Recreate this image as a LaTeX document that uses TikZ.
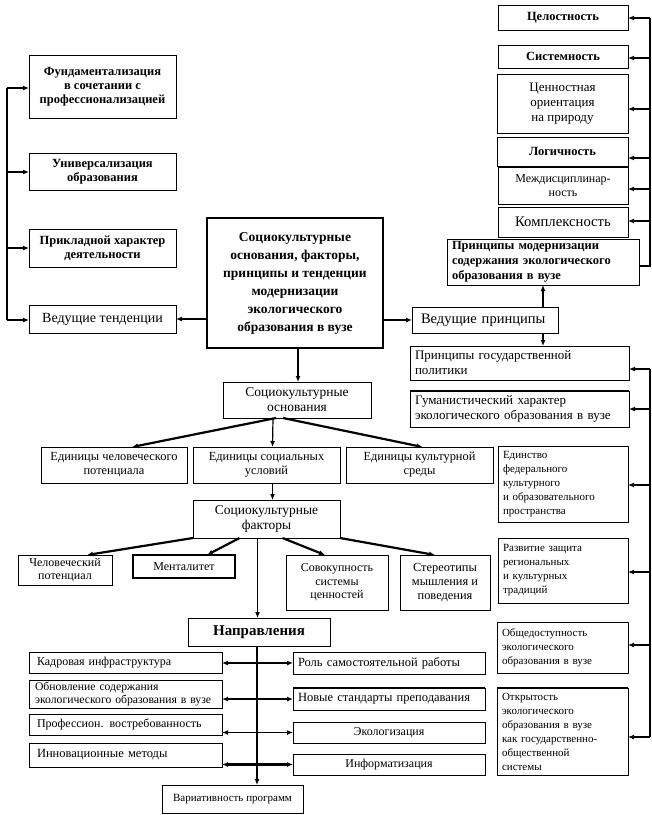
\documentclass[tikz,border=0pt]{standalone}
\usepackage{fontspec}
\setmainfont{Liberation Serif}
\usetikzlibrary{arrows.meta}
\newcommand\fsm{\fontsize{12}{13.5}\selectfont}
\newcommand\fbd{\bfseries\fontsize{12.5}{14}\selectfont}
\newcommand\fmd{\fontsize{11}{14}\selectfont}
\newcommand\fmid{\fontsize{13}{15}\selectfont}
\newcommand\fsoc{\fontsize{13.5}{15}\selectfont}
\newcommand\fbg{\fontsize{14}{16}\selectfont}
\newcommand\fctr{\bfseries\fontsize{13.5}{18}\selectfont}
% box: name, x1, y1, x2, y2, style, text
\newcommand\bx[7]{\node[box,#6,minimum width=\dimexpr#4pt-#2pt\relax,minimum height=\dimexpr#5pt-#3pt\relax] (#1) at ({(#2+#4)/2},{(#3+#5)/2}) {#7};}
% left-aligned box: name, x1, y1, x2, y2, padding, style, text
\newcommand\lbx[8]{\node[box,align=left,inner xsep=#6pt,#7,text width=\dimexpr#4pt-#2pt-#6pt-#6pt\relax,minimum height=\dimexpr#5pt-#3pt\relax] (#1) at ({(#2+#4)/2},{(#3+#5)/2}) {#8};}
\tikzset{
  box/.style={draw, line width=0.8pt, inner sep=2pt, outer sep=0pt, align=center, font=\fsm},
  bld/.style={font=\fbd},
  big/.style={font=\fbg},
  thickbox/.style={line width=1.6pt},
  arr/.style={-{Latex[length=6pt,width=5pt]}, line width=1.2pt},
  tarr/.style={-{Latex[length=6pt,width=5pt]}, line width=2.2pt},
  darr/.style={{Latex[length=6pt,width=5pt]}-{Latex[length=6pt,width=5pt]}, line width=1.4pt},
  tdarr/.style={{Latex[length=6pt,width=5pt]}-{Latex[length=6pt,width=5pt]}, line width=2.4pt},
  ln/.style={line width=1.2pt},
  tln/.style={line width=2pt},
}
\begin{document}
\begin{tikzpicture}[x=1pt,y=-1pt]
\useasboundingbox (0,0) rectangle (652,815);
\fill[white] (0,0) rectangle (652,815);
% left column
\bx{fund}{29}{55}{176}{118}{bld}{Фундаментализация\\в сочетании  с\\профессионализацией}
\bx{univ}{29}{153}{176}{190}{bld}{Универсализация\\образования}
\bx{prik}{29}{229}{176}{267}{bld}{Прикладной характер\\деятельности}
\bx{vedt}{29}{305}{176}{333}{big}{Ведущие тенденции}
% centre
\bx{ctr}{207}{218}{383}{348}{thickbox,font=\fctr}{Социокультурные\\основания, факторы,\\принципы и тенденции\\модернизации\\экологического\\образования в вузе}
% right top
\bx{cel}{498}{5}{628}{30}{bld}{Целостность}
\bx{sys}{498}{45}{628}{68}{bld}{Системность}
\bx{cen}{497}{74}{628}{133}{font=\fmid}{Ценностная\\ориентация\\на природу}
\bx{log}{497}{137}{628}{166}{bld}{Логичность}
\bx{mezh}{498}{167}{628}{204}{}{Междисциплинар-\\ность}
\bx{kom}{498}{207}{628}{237}{font=\fontsize{14.7}{16}\selectfont}{Комплексность}
\lbx{prmod}{447}{239}{639}{285}{5}{font=\bfseries\fontsize{12.5}{15}\selectfont}{Принципы модернизации\\содержания экологического\\образования в вузе}
\lbx{vedp}{412}{307}{558}{333}{9}{font=\fontsize{14.5}{16}\selectfont}{Ведущие принципы}
\lbx{pgos}{410}{346}{629}{380}{5}{font=\fmid}{Принципы государственной\\политики}
\lbx{gum}{410}{391}{629}{427}{5}{font=\fmid}{Гуманистический характер\\экологического образования в вузе}
\lbx{edin}{498}{446}{628}{522}{5}{font=\fmd}{Единство\\федерального\\культурного\\и образовательного\\пространства}
\lbx{razv}{498}{538}{628}{603}{5}{font=\fmd}{Развитие защита\\региональных\\и культурных\\традиций}
\lbx{obsh}{497}{622}{628}{673}{5}{font=\fmd}{Общедоступность\\экологического\\образования в вузе}
\lbx{otkr}{497}{688}{628}{775}{5}{font=\fmd}{Открытость\\экологического\\образования в вузе\\как государственно-\\общественной\\системы}
% middle
\bx{sosn}{223}{382}{371}{418}{font=\fsoc}{Социокультурные\\основания}
\bx{e1}{41}{447}{187}{483}{font=\fontsize{12.4}{14}\selectfont}{Единицы человеческого\\потенциала}
\bx{e2}{193}{447}{340}{483}{font=\fontsize{12.4}{14}\selectfont}{Единицы социальных\\условий}
\bx{e3}{346}{447}{493}{483}{font=\fontsize{12.4}{14}\selectfont}{Единицы культурной\\среды}
\bx{sfak}{193}{500}{340}{538}{font=\fsoc}{Социокультурные\\факторы}
\bx{f1}{18}{555}{112}{585}{}{Человеческий\\потенциал}
\bx{f2}{133}{555}{235}{578}{thickbox}{Менталитет}
\bx{f3}{286}{555}{388}{610}{}{Совокупность\\системы\\ценностей}
\bx{f4}{400}{555}{490}{610}{font=\fontsize{12.4}{14}\selectfont}{Стереотипы\\мышления и\\поведения}
\bx{napr}{188}{618}{330}{646}{font=\bfseries\fontsize{15}{16}\selectfont}{Направления}
\bx{var}{162}{785}{303}{813}{font=\fontsize{11}{12}\selectfont}{Вариативность программ}
\lbx{d1}{29}{652}{222}{673}{8}{}{Кадровая инфраструктура}
\lbx{d2}{29}{680}{222}{708}{6}{font=\fontsize{11.7}{13}\selectfont}{Обновление содержания\\экологического образования в вузе}
\lbx{d3}{29}{714}{222}{735}{8}{}{Профессион. востребованность}
\lbx{d4}{29}{743}{222}{767}{8}{font=\fontsize{12.5}{14}\selectfont}{Инновационные методы}
\lbx{r1}{293}{652}{485}{674}{5}{font=\fontsize{12.5}{14}\selectfont}{Роль самостоятельной работы}
\lbx{r2}{293}{688}{485}{710}{5}{font=\fontsize{12.5}{14}\selectfont}{Новые стандарты  преподавания}
\bx{r3}{293}{722}{485}{743}{}{Экологизация}
\bx{r4}{293}{754}{485}{775}{}{Информатизация}
% thick top borders
\draw[line width=2pt] (gum.north west) -- (gum.north east);
\draw[line width=2pt] (r2.north west) -- (r2.north east);
\draw[line width=2pt] (otkr.north west) -- (otkr.north east);
% left bracket
\coordinate (L1) at (7,88);
\coordinate (L2) at (7,172);
\coordinate (L3) at (7,248);
\coordinate (L4) at (7,320);
\draw[tln] (L1) -- (L4);
\draw[tarr] (L1) -- (fund.west |- L1);
\draw[arr] (L2) -- (univ.west |- L2);
\draw[arr] (L3) -- (prik.west |- L3);
\draw[arr] (L4) -- (vedt.west |- L4);
% centre connectors
\draw[arr] (ctr.west |- vedt.east) -- (vedt.east);
\draw[tarr] (ctr.east |- vedp.west) -- (vedp.west);
\draw[arr] ([xshift=3pt]ctr.south) -- ([xshift=3pt]ctr.south |- sosn.north);
% right top bracket
\coordinate (R0) at (650,266);
\coordinate (R1) at (650,18);
\coordinate (R2) at (650,58);
\coordinate (R3) at (650,109);
\coordinate (R4) at (650,158);
\coordinate (R5) at (650,189);
\coordinate (R6) at (650,221);
\draw[ln] (prmod.east |- R0) -- (R0) -- (R1);
\foreach \c/\b in {R1/cel,R2/sys,R3/cen,R4/log,R5/mezh,R6/kom}
  \draw[tarr] (\c) -- (\b.east |- \c);
\coordinate (VP1) at (543,307);
\coordinate (VP2) at (543,333);
\draw[arr] (VP1) -- (VP1 |- prmod.south);
\draw[arr] (VP2) -- (VP2 |- pgos.north);
% right lower bracket
\coordinate (Q1) at (650,369);
\coordinate (Q2) at (650,409);
\coordinate (Q3) at (650,485);
\coordinate (Q4) at (650,572);
\coordinate (Q5) at (650,645);
\coordinate (Q6) at (650,737);
\draw[ln] (Q1) -- (Q6);
\foreach \c/\b in {Q1/pgos,Q2/gum,Q3/edin,Q4/razv,Q5/obsh,Q6/otkr}
  \draw[tarr] (\c) -- (\b.east |- \c);
% socio bases
\draw[tarr] ([xshift=-21pt]sosn.south) -- ([xshift=18pt]e1.north);
\draw[arr] ([xshift=-24pt]sosn.south) -- ([xshift=6pt]e2.north);
\draw[tarr] ([xshift=-14pt]sosn.south) -- ([xshift=3pt]e3.north);
\draw[arr] ([xshift=6pt]e2.south) -- ([xshift=6pt]sfak.north);
% factors
\draw[tarr] (sfak.south west) -- ([xshift=22pt]f1.north);
\draw[tarr] ([xshift=-27pt]sfak.south) -- ([xshift=23pt]f2.north);
\draw[arr] ([xshift=-9pt]sfak.south) -- ([xshift=-9pt]sfak.south |- napr.north);
\draw[tarr] ([xshift=16pt]sfak.south) -- ([xshift=-12pt]f3.north);
\draw[tarr] (sfak.south east) -- ([xshift=-10pt]f4.north);
% directions
\draw[tln,-{Latex[length=6pt,width=5pt]}] (napr.south -| 257,0) -- (var.north -| 257,0);
\draw[darr] (d1.east |- r1.west) -- (r1.west);
\draw[tdarr] (d2.east |- r2.west) -- (r2.west);
\draw[darr] (d3.east |- r3.west) -- (r3.west);
\draw[tdarr] (d4.east |- r4.west) -- (r4.west);
\end{tikzpicture}
\end{document}
